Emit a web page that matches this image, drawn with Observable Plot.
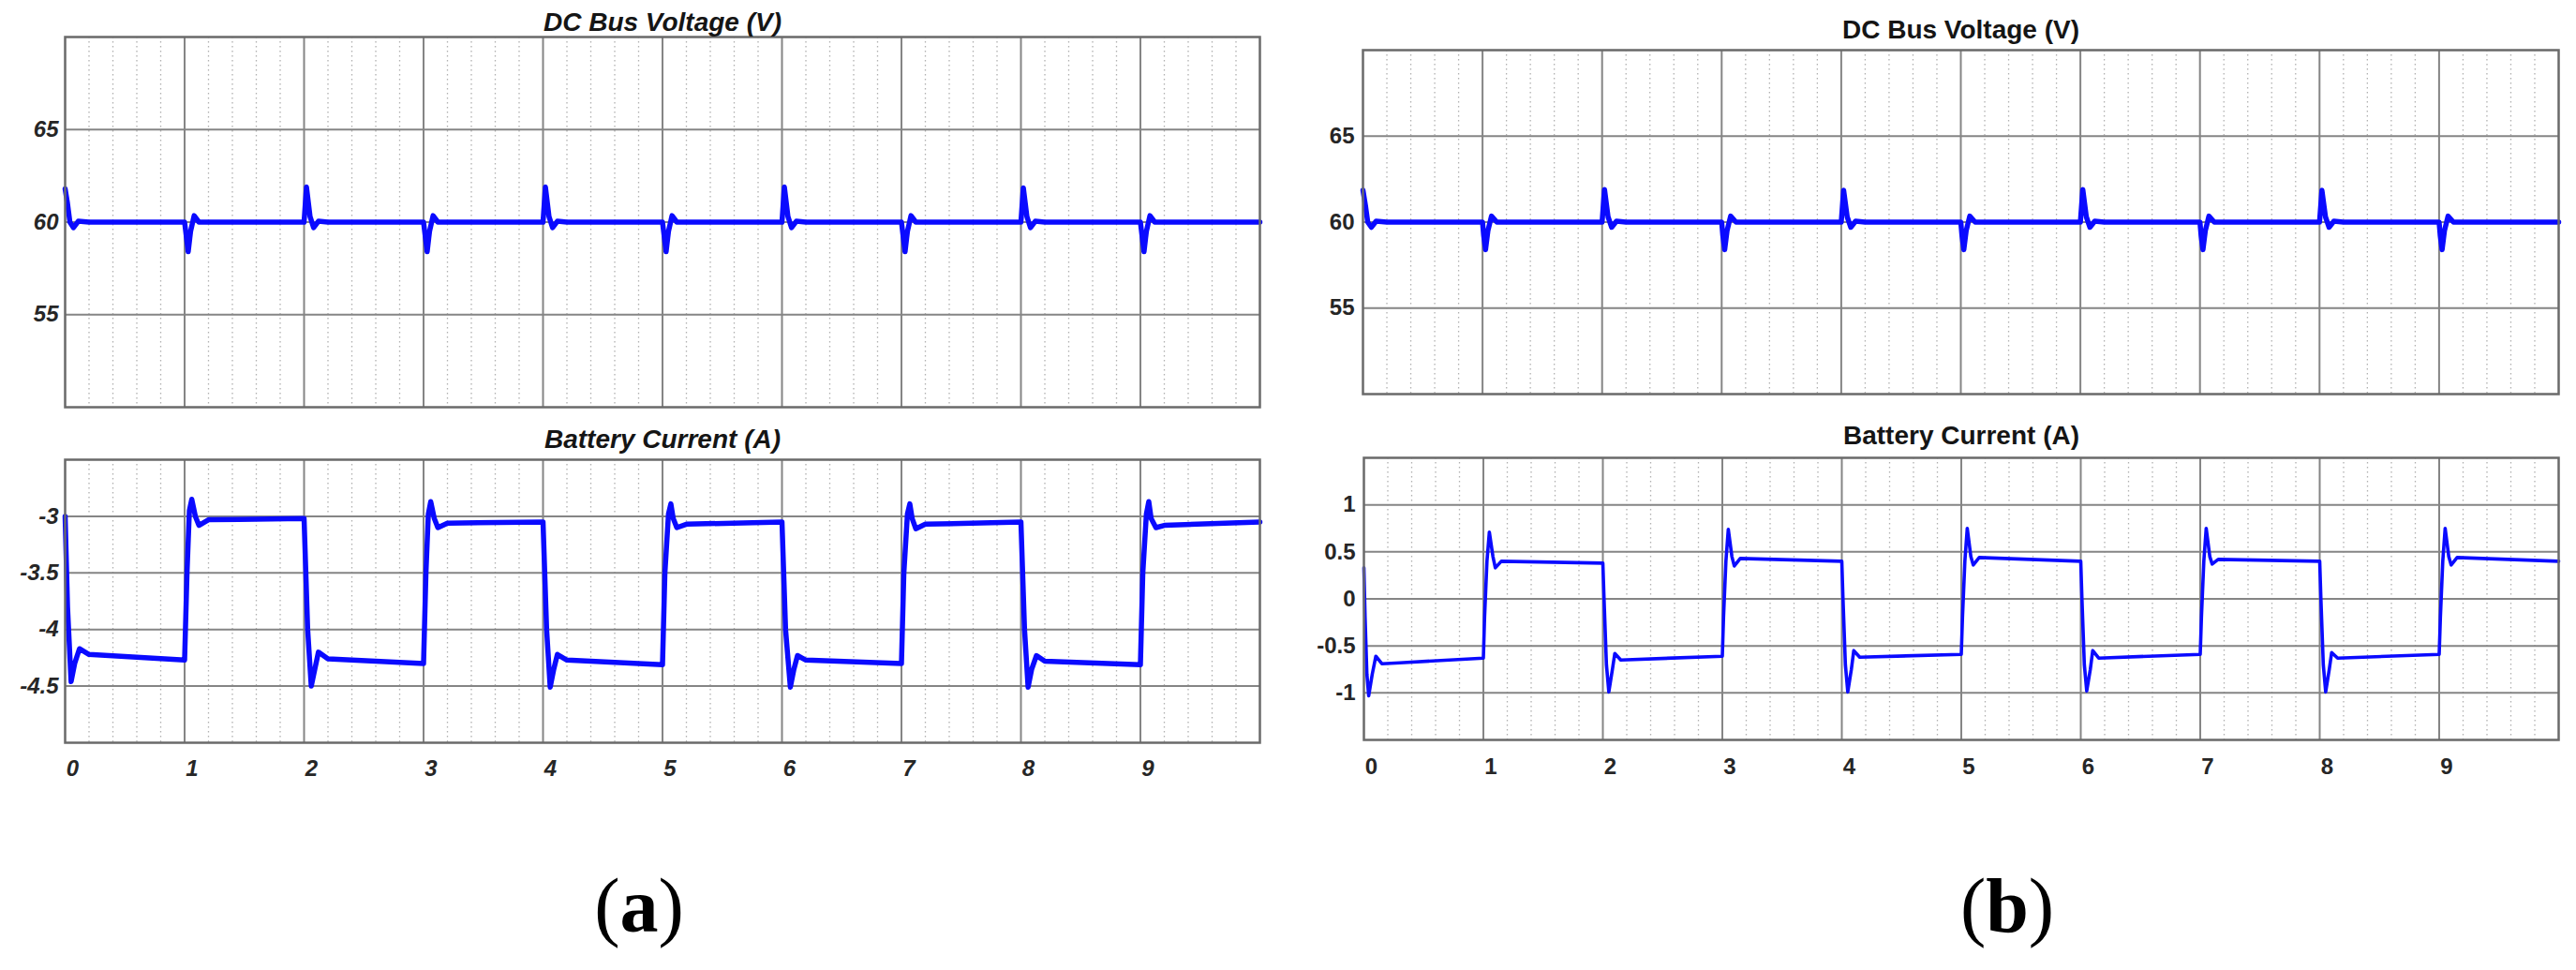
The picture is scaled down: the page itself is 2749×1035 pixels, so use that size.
<!DOCTYPE html>
<html>
<head>
<meta charset="utf-8">
<script src="https://cdn.jsdelivr.net/npm/d3@7"></script>
<script src="https://cdn.jsdelivr.net/npm/@observablehq/plot@0.6"></script>
<style>
  html, body { margin: 0; padding: 0; background: #fff; }
  #root { position: relative; width: 2749px; height: 1035px; background: #fff; overflow: hidden; }
  .panel { position: absolute; }
  .cap { position: absolute; font-family: "Liberation Serif", "Times New Roman", serif; font-size: 82px; color: #000; line-height: 1; transform: translate(-50%, 0); white-space: nowrap; }
  .cap b { font-weight: bold; }
</style>
</head>
<body>
<div id="root"></div>
<script>
// ---------- data (time in x-units, value) ----------
const titlesVoltage = "DC Bus Voltage (V)";
const titlesCurrent = "Battery Current (A)";
const xTickLabels = [0, 1, 2, 3, 4, 5, 6, 7, 8, 9];
const xMajorGrid = [1, 2, 3, 4, 5, 6, 7, 8, 9];
const voltTicks = [55, 60, 65];
const currTicksA = [-4.5, -4, -3.5, -3];
const currTicksB = [-1, -0.5, 0, 0.5, 1];
const voltDomain = [50, 70];
const currDomainA = [-5, -2.5];
const currDomainB = [-1.5, 1.5];

const dcBusA = [
  [0,61.8],[0.02,61.0],[0.04,60.0],[0.07,59.7],[0.11,60.05],[0.2,60.0],
  [1.0,60.0],[1.015,59.2],[1.03,58.4],[1.05,59.5],[1.08,60.35],[1.12,60.0],
  [2.0,60.0],[2.02,61.9],[2.05,60.3],[2.08,59.7],[2.12,60.05],[2.2,60.0],
  [3.0,60.0],[3.015,59.2],[3.03,58.4],[3.05,59.5],[3.08,60.35],[3.12,60.0],
  [4.0,60.0],[4.02,61.9],[4.05,60.3],[4.08,59.7],[4.12,60.05],[4.2,60.0],
  [5.0,60.0],[5.015,59.2],[5.03,58.4],[5.05,59.5],[5.08,60.35],[5.12,60.0],
  [6.0,60.0],[6.02,61.9],[6.05,60.3],[6.08,59.7],[6.12,60.05],[6.2,60.0],
  [7.0,60.0],[7.015,59.2],[7.03,58.4],[7.05,59.5],[7.08,60.35],[7.12,60.0],
  [8.0,60.0],[8.02,61.85],[8.05,60.3],[8.08,59.7],[8.12,60.05],[8.2,60.0],
  [9.0,60.0],[9.015,59.2],[9.03,58.4],[9.05,59.5],[9.08,60.35],[9.12,60.0],
  [10.0,60.0]
];
const currentA = [
  [0,-3.0],[0.02,-3.8],[0.05,-4.46],[0.08,-4.3],[0.12,-4.17],[0.2,-4.22],[1.0,-4.27],
  [1.02,-3.5],[1.04,-2.95],[1.06,-2.85],[1.09,-3.0],[1.12,-3.08],[1.2,-3.03],[2.0,-3.02],
  [2.03,-4.0],[2.06,-4.5],[2.09,-4.35],[2.12,-4.2],[2.2,-4.26],[3.0,-4.30],
  [3.02,-3.5],[3.04,-2.98],[3.06,-2.87],[3.09,-3.02],[3.12,-3.1],[3.2,-3.06],[4.0,-3.05],
  [4.03,-4.0],[4.06,-4.51],[4.09,-4.35],[4.12,-4.22],[4.2,-4.27],[5.0,-4.31],
  [5.02,-3.5],[5.05,-2.98],[5.07,-2.89],[5.09,-3.02],[5.12,-3.1],[5.2,-3.07],[6.0,-3.05],
  [6.03,-4.0],[6.07,-4.51],[6.10,-4.35],[6.13,-4.23],[6.2,-4.27],[7.0,-4.30],
  [7.02,-3.5],[7.05,-2.98],[7.07,-2.89],[7.09,-3.02],[7.12,-3.11],[7.2,-3.07],[8.0,-3.05],
  [8.03,-4.0],[8.06,-4.51],[8.09,-4.35],[8.13,-4.23],[8.2,-4.28],[9.0,-4.31],
  [9.02,-3.5],[9.05,-2.98],[9.07,-2.87],[9.09,-3.02],[9.13,-3.1],[9.2,-3.08],[10.0,-3.05]
];
const dcBusB = [
  [0,61.85],[0.02,61.0],[0.04,60.0],[0.07,59.7],[0.11,60.05],[0.2,60.0],
  [1.0,60.0],[1.01,59.2],[1.025,58.4],[1.045,59.5],[1.075,60.35],[1.12,60.0],
  [2.0,60.0],[2.02,61.9],[2.05,60.3],[2.08,59.7],[2.12,60.05],[2.2,60.0],
  [3.0,60.0],[3.01,59.2],[3.025,58.4],[3.045,59.5],[3.075,60.35],[3.12,60.0],
  [4.0,60.0],[4.02,61.85],[4.05,60.3],[4.08,59.7],[4.12,60.05],[4.2,60.0],
  [5.0,60.0],[5.01,59.2],[5.025,58.4],[5.045,59.5],[5.075,60.35],[5.12,60.0],
  [6.0,60.0],[6.02,61.9],[6.05,60.3],[6.08,59.7],[6.12,60.05],[6.2,60.0],
  [7.0,60.0],[7.01,59.2],[7.025,58.4],[7.045,59.5],[7.075,60.35],[7.12,60.0],
  [8.0,60.0],[8.02,61.85],[8.05,60.3],[8.08,59.7],[8.12,60.05],[8.2,60.0],
  [9.0,60.0],[9.01,59.2],[9.025,58.4],[9.045,59.5],[9.075,60.35],[9.12,60.0],
  [10.0,60.0]
];
const currentB = [
  [0,0.33],[0.01,-0.2],[0.025,-0.8],[0.04,-1.03],[0.07,-0.8],[0.10,-0.61],[0.15,-0.69],[0.3,-0.68],[1.0,-0.63],
  [1.01,-0.2],[1.03,0.4],[1.05,0.71],[1.08,0.45],[1.10,0.33],[1.15,0.40],[2.0,0.38],
  [2.01,0.0],[2.03,-0.7],[2.05,-0.99],[2.08,-0.75],[2.10,-0.58],[2.15,-0.65],[3.0,-0.61],
  [3.01,-0.2],[3.03,0.4],[3.05,0.74],[3.08,0.45],[3.10,0.35],[3.15,0.43],[4.0,0.40],
  [4.01,0.0],[4.03,-0.7],[4.05,-0.99],[4.08,-0.75],[4.10,-0.55],[4.15,-0.62],[5.0,-0.59],
  [5.01,-0.2],[5.03,0.4],[5.05,0.75],[5.08,0.45],[5.10,0.36],[5.15,0.44],[6.0,0.40],
  [6.01,0.0],[6.03,-0.7],[6.05,-0.98],[6.08,-0.75],[6.10,-0.55],[6.15,-0.63],[7.0,-0.59],
  [7.01,-0.2],[7.03,0.4],[7.05,0.75],[7.08,0.45],[7.10,0.37],[7.15,0.42],[8.0,0.40],
  [8.01,0.0],[8.03,-0.7],[8.05,-0.99],[8.08,-0.75],[8.10,-0.57],[8.15,-0.63],[9.0,-0.59],
  [9.01,-0.2],[9.03,0.4],[9.05,0.75],[9.08,0.45],[9.10,0.36],[9.15,0.44],[10.0,0.40]
];

// minor (dotted) vertical grid every 0.2
const minorX = d3.range(1, 50).filter(i => i % 5 !== 0).map(i => i / 5);

function panel(o) {
  const marks = [
    Plot.gridX(minorX, {stroke: "#b0b0b0", strokeOpacity: 1, strokeWidth: 1.3, strokeDasharray: "1.5,3.5"}),
    Plot.gridX(xMajorGrid, {stroke: "#858585", strokeOpacity: 1, strokeWidth: 2}),
    Plot.gridY(o.yTicks, {stroke: "#858585", strokeOpacity: 1, strokeWidth: 2}),
    Plot.line(o.data, {x: d => d[0], y: d => d[1], stroke: "#0a0aff", strokeWidth: o.sw, strokeLinejoin: "round"}),
    Plot.frame({stroke: "#6a6a6a", strokeWidth: 2.5}),
    Plot.axisY(o.yTicks, {tickSize: 0, tickPadding: o.yPad, tickFormat: d => String(d), fontWeight: "bold", fill: "#262626", fontStyle: o.italic ? "italic" : "normal"}),
    Plot.text([o.title], {text: d => d, frameAnchor: "top", dy: o.titleDy, lineAnchor: "bottom", fontSize: 28, fontWeight: "bold", fontStyle: o.italic ? "italic" : "normal", fill: "#151515"})
  ];
  if (o.showX) {
    marks.push(Plot.axisX(xTickLabels, {tickSize: 0, tickPadding: o.xPad, dx: 8, tickFormat: d => String(d), fontWeight: "bold", fill: "#262626", fontStyle: o.italic ? "italic" : "normal"}));
  }
  const svg = Plot.plot({
    width: o.width, height: o.height,
    marginLeft: o.ml, marginRight: o.mr, marginTop: o.mt, marginBottom: o.mb,
    x: {domain: [0, 10], label: null, axis: o.showX ? undefined : null},
    y: {domain: o.yDomain, label: null},
    style: {fontFamily: "'Liberation Sans', Arial, sans-serif", fontSize: "24px", background: "transparent", overflow: "visible"},
    marks
  });
  svg.classList.add("panel");
  svg.style.left = o.left + "px";
  svg.style.top = o.top + "px";
  document.getElementById("root").appendChild(svg);
}

panel({data: dcBusA, yDomain: voltDomain, yTicks: voltTicks, title: titlesVoltage, italic: true, sw: 5.5,
  left: 0, top: 0, width: 1370, height: 450, ml: 69, mr: 26, mt: 39, mb: 16, titleDy: -7, yPad: 7, showX: false});
panel({data: currentA, yDomain: currDomainA, yTicks: currTicksA, title: titlesCurrent, italic: true, sw: 5.5,
  left: 0, top: 440, width: 1370, height: 420, ml: 69, mr: 26, mt: 50, mb: 68, titleDy: -13, yPad: 7, xPad: 18, showX: true});
panel({data: dcBusB, yDomain: voltDomain, yTicks: voltTicks, title: titlesVoltage, italic: false, sw: 5.5,
  left: 1380, top: 0, width: 1369, height: 440, ml: 74, mr: 19, mt: 53, mb: 20, titleDy: -13, yPad: 9, showX: false});
panel({data: currentB, yDomain: currDomainB, yTicks: currTicksB, title: titlesCurrent, italic: false, sw: 3.6,
  left: 1380, top: 440, width: 1369, height: 420, ml: 75, mr: 19, mt: 48, mb: 71, titleDy: -15, yPad: 9, xPad: 19, showX: true});

// sub-figure captions
const capA = document.createElement("div");
capA.className = "cap"; capA.innerHTML = "(<b>a</b>)";
capA.style.left = "682px"; capA.style.top = "926px";
const capB = document.createElement("div");
capB.className = "cap"; capB.innerHTML = "(<b>b</b>)";
capB.style.left = "2142px"; capB.style.top = "926px";
document.getElementById("root").appendChild(capA);
document.getElementById("root").appendChild(capB);
</script>
</body>
</html>
